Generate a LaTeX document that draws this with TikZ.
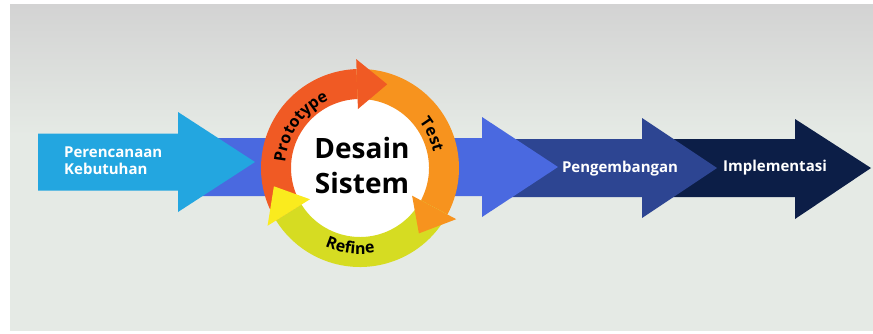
\documentclass[tikz,border=0pt]{standalone}
\usepackage{fontspec}
\setmainfont{Open Sans}
\usetikzlibrary{decorations.text}
\definecolor{bgtop}{HTML}{D3D3D3}
\definecolor{bgbot}{HTML}{E5EAE5}
\definecolor{lblue}{HTML}{23A6E0}
\definecolor{mblue}{HTML}{4A69E0}
\definecolor{dblue}{HTML}{2D4592}
\definecolor{navy}{HTML}{0C1E47}
\definecolor{cred}{HTML}{F05A24}
\definecolor{corange}{HTML}{F7931E}
\definecolor{cygreen}{HTML}{D6DC22}
\definecolor{cyellow}{HTML}{FAEB1E}
\newcommand\ringfont{\fontsize{16}{16}\selectfont\bfseries}
\newcommand\ringseg[3]{\fill[#1,shift={(C)}] (#2:99) arc[start angle=#2,end angle=#3,radius=99] -- (#3:69) arc[start angle=#3,end angle=#2,radius=69] -- cycle;}
\newcommand\ringhead[3]{\fill[#1,shift={(C)}] (#2:59) -- (#2:109) -- (#3:88) -- cycle;}
\tikzset{
  lbl/.style={text=white, font=\fontsize{15}{17}\selectfont\bfseries, inner sep=0pt},
  center text/.style={text=black, font=\fontsize{28}{35}\selectfont\bfseries, inner sep=0pt, align=center},
  ringtext/.style={decorate, decoration={text along path, text align=center, text={|\ringfont|#1}}}
}
\begin{document}
\begin{tikzpicture}[x=1pt,y=1pt]
\useasboundingbox (0,0) rectangle (873,333);
\fill[white] (0,0) rectangle (873,333);
\shade[top color=bgtop,bottom color=bgbot] (10,198) rectangle (873,328);
\fill[bgbot] (10,2) rectangle (873,198.5);
% arrows (back to front)
\fill[navy] (660,194) -- (795,194) -- (795,214) -- (871,165) -- (795,114) -- (795,136) -- (660,136) -- cycle;
\fill[dblue] (500,194) -- (642,194) -- (642,215) -- (717,165) -- (642,115) -- (642,136) -- (500,136) -- cycle;
\fill[mblue] (190,195) -- (482,195) -- (482,216) -- (558,166) -- (482,116) -- (482,137) -- (190,137) -- cycle;
\fill[lblue] (38,199.5) -- (178,199.5) -- (178,221) -- (255,171) -- (178,121) -- (178,142.5) -- (38,142.5) -- cycle;
% cycle ring
\coordinate (C) at (360,165);
\fill[white] (C) circle[radius=70];
\ringseg{cred}{212}{92}
\ringseg{corange}{92}{-28}
\ringseg{cygreen}{-28}{-148}
\ringhead{cred}{92}{72}
\ringhead{corange}{-28}{-48}
\ringhead{cyellow}{212}{192}
\path[shift={(C)},ringtext=Prototype] (200:75) arc[start angle=200,end angle=90,radius=75];
\path[shift={(C)},ringtext=Test] (55:75) arc[start angle=55,end angle=-5,radius=75];
\path[shift={(C)},ringtext=Refine] (-140:86) arc[start angle=-140,end angle=-54,radius=86];
\node[center text] (ds) at (362,167.5) {Desain\\Sistem};
% labels
\node[lbl, anchor=west, align=left] (pk) at (64,172) {Perencanaan\\Kebutuhan};
\node[lbl, anchor=base] (pg) at (620,161) {Pengembangan};
\node[lbl, anchor=base] (im) at (775,162) {Implementasi};
\end{tikzpicture}
\end{document}
